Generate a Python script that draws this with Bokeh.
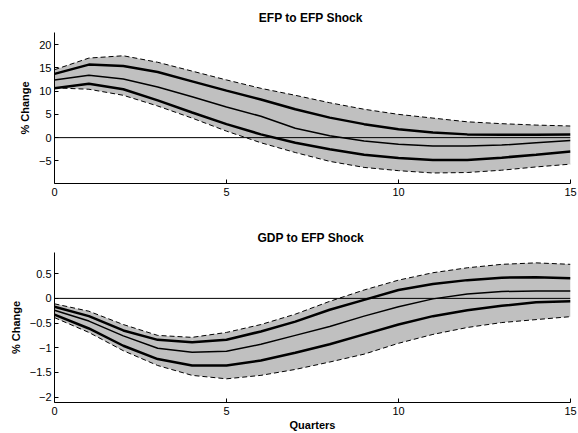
from bokeh.plotting import figure
from bokeh.layouts import column
from bokeh.models import Range1d, FixedTicker, Span, CustomJSTickFormatter
from bokeh.embed import file_html
from bokeh.resources import INLINE

quarters = list(range(16))

# EFP to EFP Shock
efp_lo_band = [10.7, 10.4, 9.1, 6.8, 4.2, 1.4, -1.1, -3.2, -5.1, -6.4, -7.1, -7.6, -7.5, -7.0, -6.3, -5.7]
efp_lo = [10.6, 11.6, 10.4, 8.0, 5.4, 2.9, 0.7, -1.1, -2.5, -3.7, -4.4, -4.8, -4.8, -4.3, -3.7, -3.0]
efp_med = [12.4, 13.4, 12.6, 10.9, 8.8, 6.6, 4.6, 2.0, 0.4, -0.7, -1.4, -1.8, -1.8, -1.6, -1.1, -0.6]
efp_hi = [13.7, 15.7, 15.4, 14.1, 12.1, 10.1, 8.2, 6.1, 4.3, 2.9, 1.8, 1.1, 0.7, 0.6, 0.6, 0.7]
efp_hi_band = [14.6, 17.1, 17.6, 16.2, 14.3, 12.4, 10.6, 9.1, 7.5, 6.1, 5.0, 4.2, 3.4, 3.0, 2.7, 2.5]

# GDP to EFP Shock
gdp_lo_band = [-0.39, -0.69, -1.06, -1.36, -1.56, -1.63, -1.56, -1.44, -1.29, -1.13, -0.91, -0.73, -0.59, -0.49, -0.43, -0.37]
gdp_lo = [-0.33, -0.61, -0.96, -1.23, -1.36, -1.36, -1.26, -1.10, -0.93, -0.73, -0.53, -0.36, -0.24, -0.15, -0.08, -0.06]
gdp_med = [-0.24, -0.46, -0.76, -1.01, -1.09, -1.07, -0.93, -0.75, -0.57, -0.36, -0.17, -0.01, 0.09, 0.14, 0.15, 0.15]
gdp_hi = [-0.17, -0.36, -0.65, -0.84, -0.89, -0.84, -0.67, -0.47, -0.23, -0.03, 0.17, 0.29, 0.37, 0.42, 0.43, 0.41]
gdp_hi_band = [-0.11, -0.26, -0.53, -0.75, -0.79, -0.69, -0.53, -0.32, -0.06, 0.17, 0.37, 0.52, 0.62, 0.69, 0.72, 0.69]

x_ticks = [0, 5, 10, 15]
efp_ticks = [-5, 0, 5, 10, 15, 20]
gdp_ticks = [-2, -1.5, -1, -0.5, 0, 0.5]

FONT = "Liberation Sans"
fmt = CustomJSTickFormatter(code="""
    var s = Math.abs(tick).toString();
    return tick < 0 ? '\\u2212' + s : s;
""")


def make_panel(title, lo_band, lo, med, hi, hi_band, y_rng, y_ticks, height,
               b_top, b_bottom, xlabel=None):
    p = figure(width=578, height=height, output_backend="svg", toolbar_location=None,
               x_range=Range1d(0, 15), y_range=Range1d(*y_rng),
               min_border_left=54, min_border_right=8,
               min_border_top=b_top, min_border_bottom=b_bottom)
    p.title.text = title
    p.title.align = "center"
    p.title.text_font = FONT
    p.title.text_font_size = "12px"
    p.title.text_font_style = "bold"
    p.title.text_color = "black"
    p.title.standoff = 16
    p.outline_line_color = None
    p.xgrid.visible = False
    p.ygrid.visible = False
    p.background_fill_color = "white"
    p.border_fill_color = "white"

    p.varea(x=quarters, y1=lo_band, y2=hi_band, fill_color="#c0c0c0")
    p.line(quarters, lo_band, line_color="black", line_width=1, line_dash="5 3")
    p.line(quarters, hi_band, line_color="black", line_width=1, line_dash="5 3")
    p.line(quarters, lo, line_color="black", line_width=2.5)
    p.line(quarters, hi, line_color="black", line_width=2.5)
    p.line(quarters, med, line_color="black", line_width=1.5)
    p.add_layout(Span(location=0, dimension="width", line_color="black", line_width=1))

    for ax in (p.xaxis[0], p.yaxis[0]):
        ax.axis_line_color = "black"
        ax.axis_line_width = 1
        ax.major_tick_in = 4
        ax.major_tick_out = 0
        ax.minor_tick_line_color = None
        ax.major_tick_line_color = "black"
        ax.major_label_text_font = FONT
        ax.major_label_text_font_size = "11px"
        ax.major_label_text_color = "black"
        ax.axis_label_text_font = FONT
        ax.axis_label_text_font_size = "11px"
        ax.axis_label_text_font_style = "bold"
        ax.axis_label_text_color = "black"
    p.xaxis.ticker = FixedTicker(ticks=x_ticks)
    p.yaxis.ticker = FixedTicker(ticks=y_ticks)
    p.yaxis.formatter = fmt
    p.xaxis.major_label_standoff = 4
    p.yaxis.major_label_standoff = 3
    p.yaxis.axis_label = "% Change"
    p.yaxis.axis_label_standoff = 5
    if xlabel:
        p.xaxis.axis_label = xlabel
        p.xaxis.axis_label_standoff = 1
    return p


p1 = make_panel("EFP to  EFP Shock", efp_lo_band, efp_lo, efp_med, efp_hi, efp_hi_band,
                (-9.86, 22.6), efp_ticks, 215, 32, 32)
p2 = make_panel("GDP to  EFP Shock", gdp_lo_band, gdp_lo, gdp_med, gdp_hi, gdp_hi_band,
                (-2.11, 0.93), gdp_ticks, 218, 37, 29, xlabel="Quarters")

layout = column(p1, p2, spacing=0)
open("out.html", "w").write(file_html(layout, INLINE))
